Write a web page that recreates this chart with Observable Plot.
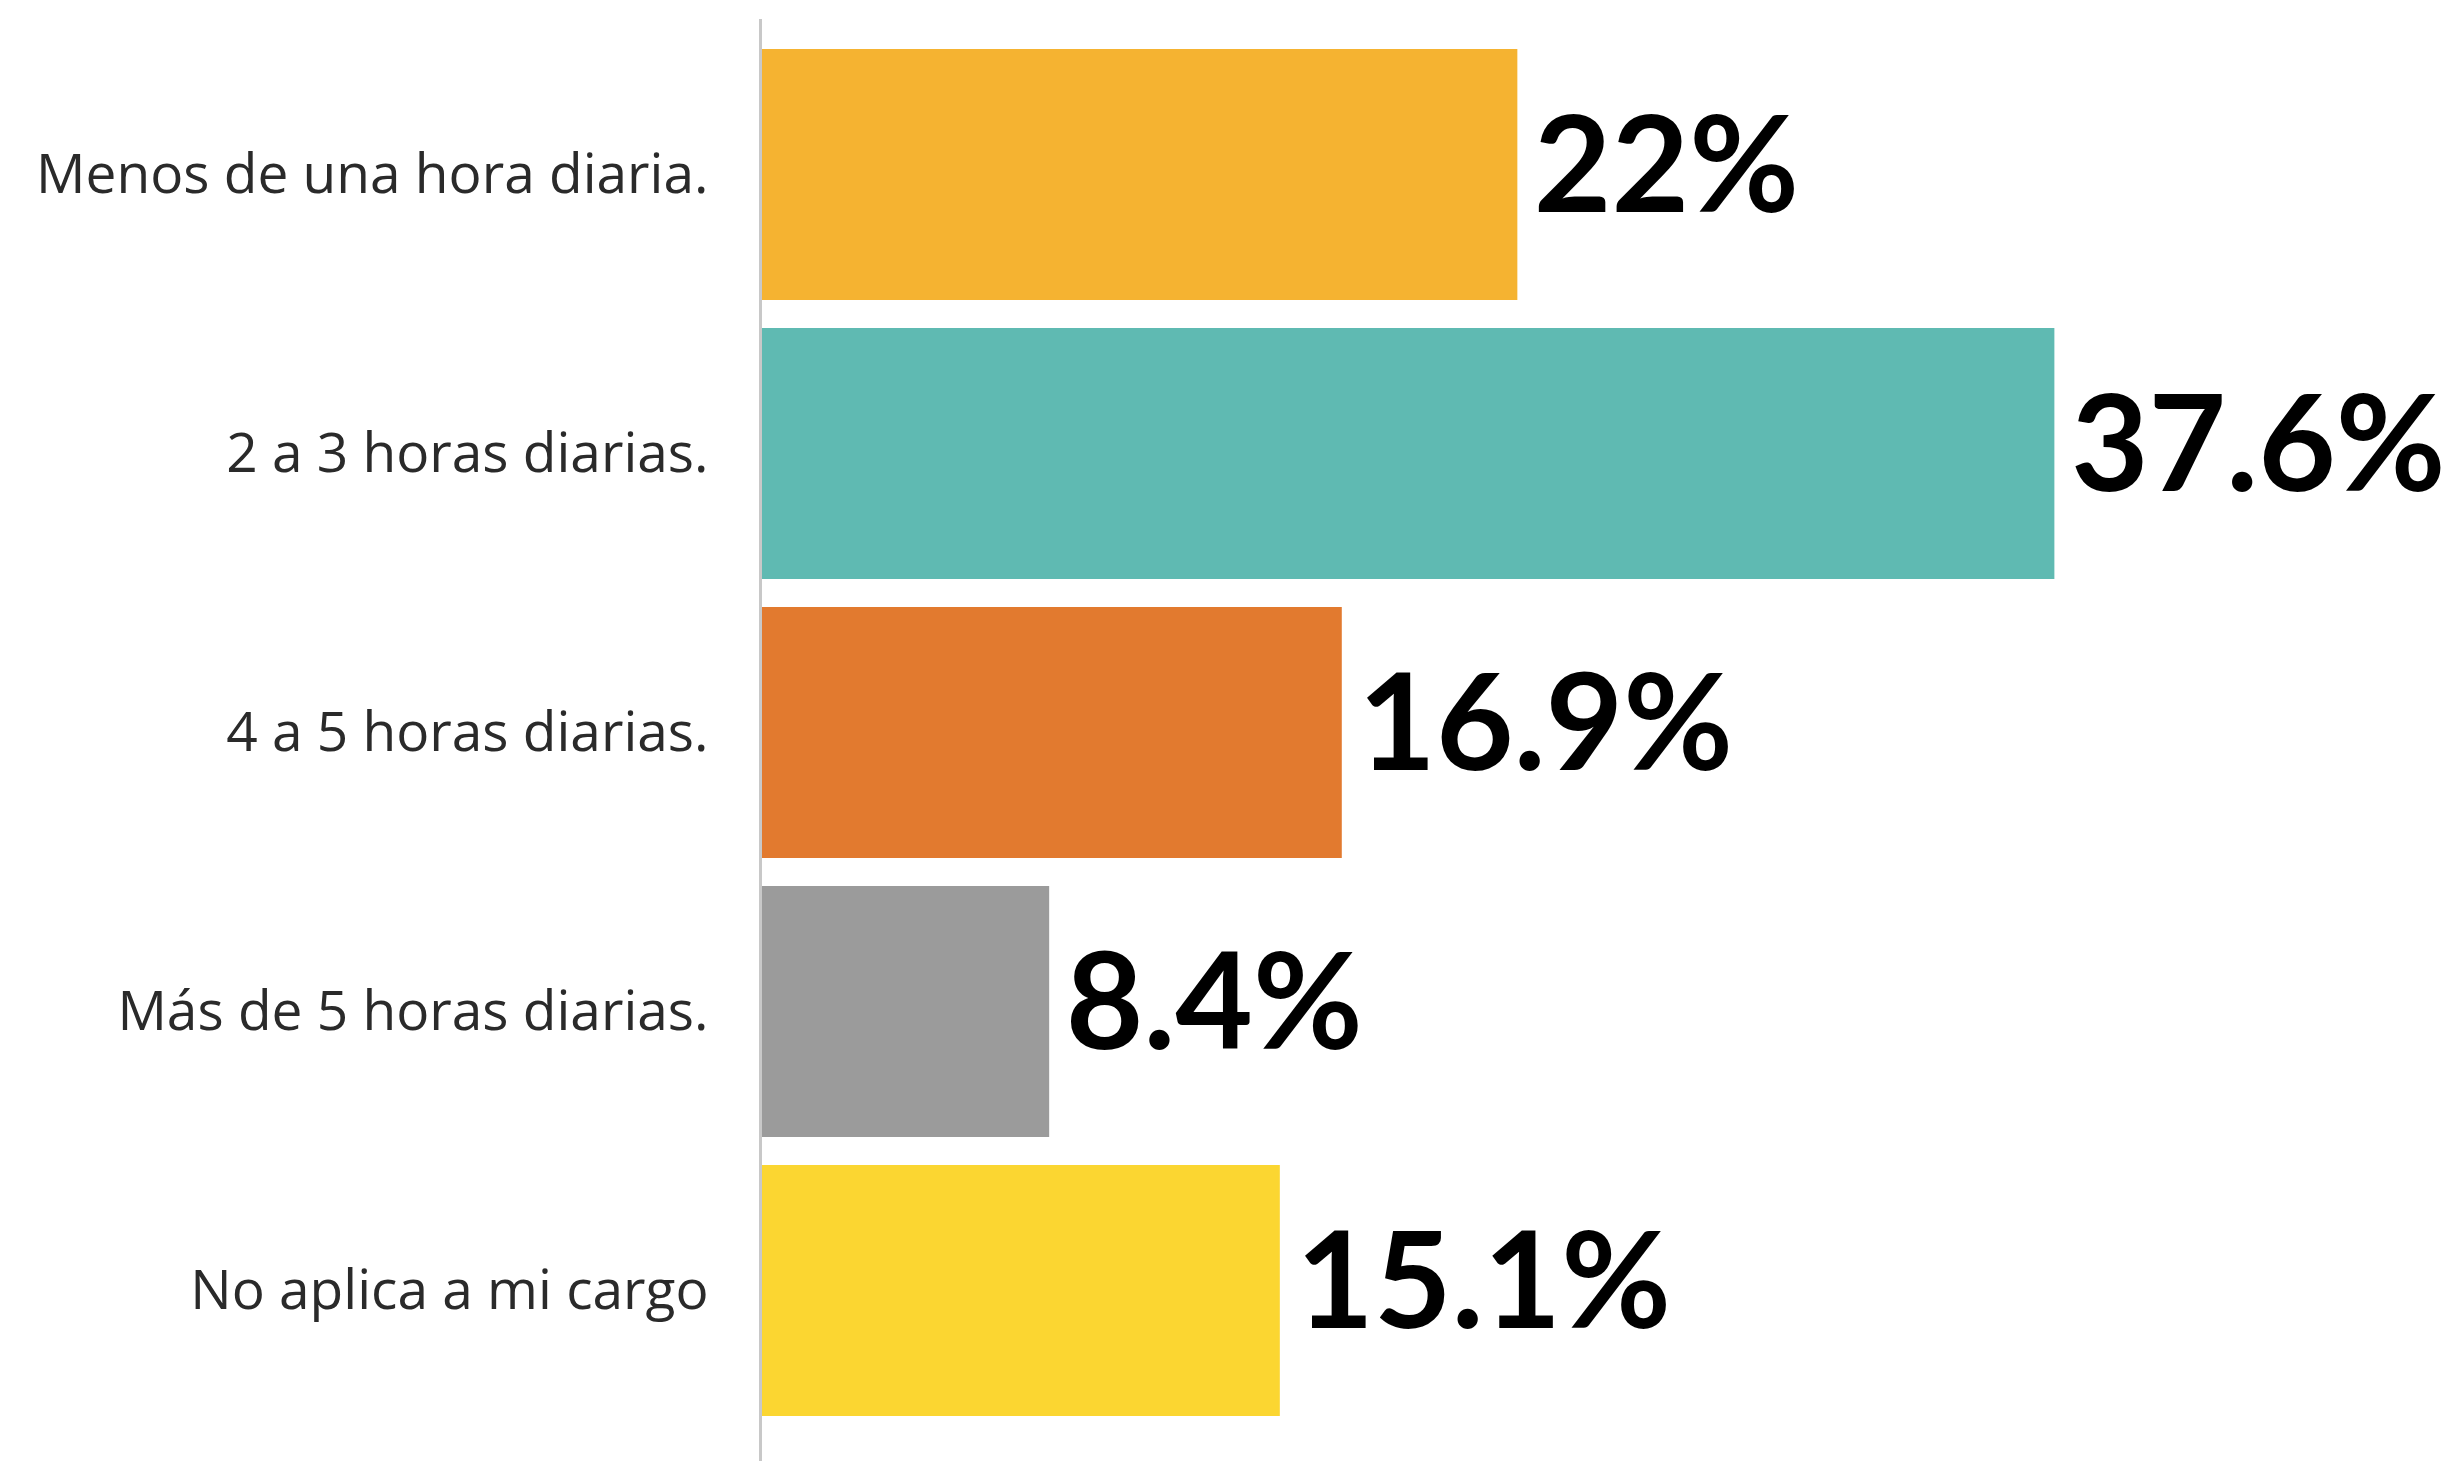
<!DOCTYPE html>
<html>
<head>
<meta charset="utf-8">
<script src="https://cdn.jsdelivr.net/npm/d3@7"></script>
<script src="https://cdn.jsdelivr.net/npm/@observablehq/plot@0.6"></script>
<style>
  html, body { margin: 0; padding: 0; background: #fff; }
  #chart svg { display: block; }
</style>
</head>
<body>
<div id="chart"></div>
<script>
const categories = [
  "Menos de una hora diaria.",
  "2 a 3 horas diarias.",
  "4 a 5 horas diarias.",
  "Más de 5 horas diarias.",
  "No aplica a mi cargo"
];
const values = [22, 37.6, 16.9, 8.4, 15.1];
const valueLabels = ["22%", "37.6%", "16.9%", "8.4%", "15.1%"];
const colors = ["#F5B331", "#5FBAB2", "#E27A2F", "#9B9B9B", "#FBD631"];

const data = categories.map((c, i) => ({category: c, value: values[i], label: valueLabels[i], color: colors[i]}));

const chart = Plot.plot({
  width: 2451,
  height: 1461,
  marginLeft: 760,
  marginRight: 314,
  marginTop: 33,
  marginBottom: 29,
  style: {fontFamily: "Lato, sans-serif", background: "#fff"},
  x: {domain: [0, 40], axis: null},
  y: {domain: categories, paddingInner: 0.1, paddingOuter: 0.05, label: null},
  marks: [
    Plot.barX(data, {x: "value", y: "category", fill: "color"}),
    Plot.axisY({tickSize: 0, tickPadding: 52, fontSize: 55, fill: "#2a2a2a", label: null,
      fontFamily: "'Open Sans', sans-serif"}),
    Plot.ruleX([0], {stroke: "#c8c8c8", strokeWidth: 3, insetTop: -14, insetBottom: -29}),
    Plot.text(data, {x: "value", y: "category", text: "label", textAnchor: "start", dx: 16, dy: -6,
      fontSize: 134, fontWeight: "bold", fill: "#000"})
  ]
});
document.getElementById("chart").appendChild(chart);
</script>
</body>
</html>
